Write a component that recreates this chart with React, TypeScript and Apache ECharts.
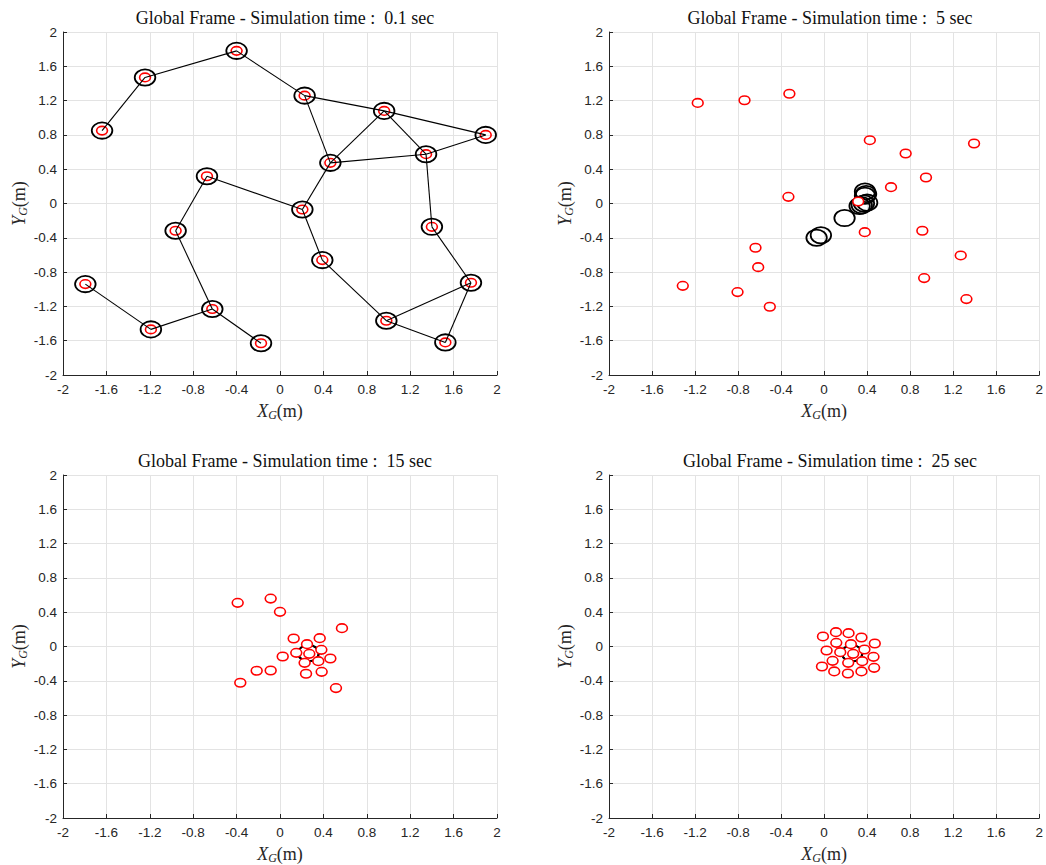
import React, { useEffect, useRef } from "react";
import * as echarts from "echarts";

// Agent positions (m) at each snapshot
const agentsT01: [number, number][] = [
  [-1.64, 0.85], [-1.244, 1.47], [-0.4, 1.78], [0.227, 1.258], [0.96, 1.08],
  [1.896, 0.8], [1.346, 0.575], [0.464, 0.474], [-0.673, 0.318], [0.206, -0.07],
  [-0.962, -0.318], [1.4, -0.272], [0.39, -0.66], [-1.794, -0.94], [1.76, -0.924],
  [-0.624, -1.23], [-1.19, -1.468], [0.98, -1.367], [1.524, -1.62], [-0.175, -1.63],
];
const agentsT5: [number, number][] = [
  [-1.175, 1.173], [-0.74, 1.204], [-0.323, 1.28], [0.425, 0.738], [0.758, 0.583],
  [1.394, 0.7], [0.947, 0.303], [0.622, 0.19], [-0.332, 0.078], [0.317, 0.023],
  [0.378, -0.334], [0.913, -0.318], [-0.638, -0.516], [-0.613, -0.742], [1.27, -0.606],
  [-1.314, -0.96], [-0.805, -1.033], [0.93, -0.87], [-0.505, -1.204], [1.323, -1.115],
];
const agentsT15: [number, number][] = [
  [-0.39, 0.509], [-0.086, 0.559], [0.0, 0.404], [0.571, 0.214], [0.126, 0.093],
  [0.366, 0.097], [0.249, 0.027], [0.381, -0.039], [0.15, -0.074], [0.27, -0.085],
  [0.025, -0.117], [0.464, -0.14], [0.227, -0.19], [0.353, -0.171], [-0.215, -0.283],
  [-0.086, -0.28], [0.24, -0.318], [0.384, -0.295], [-0.366, -0.423], [0.516, -0.485],
];
const agentsT25: [number, number][] = [
  [-0.011, 0.117], [0.11, 0.167], [0.227, 0.155], [0.347, 0.105], [0.471, 0.035],
  [0.113, 0.043], [0.249, 0.027], [0.023, -0.047], [0.15, -0.066], [0.27, -0.085],
  [0.375, -0.035], [0.459, -0.12], [0.079, -0.167], [0.224, -0.19], [0.354, -0.171],
  [-0.02, -0.233], [0.094, -0.291], [0.221, -0.315], [0.347, -0.291], [0.465, -0.249],
];

// Reference (virtual) positions drawn as black rings
const virtualT01 = agentsT01;
const virtualT5: [number, number][] = [
  [0.38, 0.14], [0.39, 0.11], [0.38, 0.09], [0.4, 0.01], [0.37, 0.0],
  [0.35, -0.02], [0.33, -0.03], [0.19, -0.17], [-0.03, -0.37], [-0.07, -0.4],
];
const virtualT15: [number, number][] = [[0.26, -0.08], [0.265, -0.075]];
const virtualT25: [number, number][] = [[0.258, -0.078], [0.262, -0.08]];

// Communication links at t = 0.1 s (agent index pairs)
const linksT01: [number, number][] = [
  [0, 1], [1, 2], [2, 3], [3, 4], [4, 5], [3, 7], [4, 7], [4, 6], [7, 6], [6, 5],
  [7, 9], [6, 11], [9, 8], [8, 10], [10, 15], [9, 12], [12, 17], [11, 14], [14, 17],
  [14, 18], [17, 18], [13, 16], [16, 15], [15, 19],
];

const snapshotTimes = ["0.1", "5", "15", "25"];
const axisMin = -2;
const axisMax = 2;
const axisStep = 0.4;

const agentRadius = 0.05;
const virtualRadius = 0.095;

const serif = "Liberation Serif";
const sans = "Liberation Sans";
const ink = "#262626";

const grids = [
  { left: 63, top: 32, width: 434, height: 343 },
  { left: 609, top: 32, width: 432, height: 343 },
  { left: 63, top: 475, width: 434, height: 344 },
  { left: 609, top: 475, width: 432, height: 344 },
];

const nameRich = {
  i: { fontFamily: serif, fontStyle: "italic" as const, fontSize: 18, color: ink },
  s: {
    fontFamily: serif,
    fontStyle: "italic" as const,
    fontSize: 12,
    color: ink,
    padding: [9, 0, 0, 0],
  },
  n: { fontFamily: serif, fontSize: 18, color: ink },
};

const tickRich = {
  t: { fontFamily: sans, fontSize: 13.5, color: ink },
};

function ringSeries(
  idx: number,
  data: [number, number][],
  radius: number,
  stroke: string,
  fill: string,
  lineWidth: number,
  z: number
) {
  return {
    type: "custom",
    xAxisIndex: idx,
    yAxisIndex: idx,
    z,
    data,
    renderItem: (_p: any, api: any) => {
      const c = api.coord([api.value(0), api.value(1)]);
      const s = api.size([radius, radius]);
      return {
        type: "ellipse",
        shape: { cx: c[0], cy: c[1], rx: s[0], ry: s[1] },
        style: { fill, stroke, lineWidth },
      };
    },
  };
}

function linkSeries(idx: number, pts: [number, number][], links: [number, number][]) {
  const data = links.map(([a, b]) => [pts[a][0], pts[a][1], pts[b][0], pts[b][1]]);
  return {
    type: "custom",
    xAxisIndex: idx,
    yAxisIndex: idx,
    z: 5,
    data,
    encode: { x: [0, 2], y: [1, 3] },
    renderItem: (_p: any, api: any) => {
      const p1 = api.coord([api.value(0), api.value(1)]);
      const p2 = api.coord([api.value(2), api.value(3)]);
      return {
        type: "line",
        shape: { x1: p1[0], y1: p1[1], x2: p2[0], y2: p2[1] },
        style: { stroke: "#000", lineWidth: 1.1 },
      };
    },
  };
}

const fmt = (v: number) => `{t|${String(Number(v.toFixed(1)))}}`;

export default function App() {
  const ref = useRef<HTMLDivElement>(null);

  useEffect(() => {
    if (!ref.current) return;
    const chart = echarts.init(ref.current, null, { renderer: "svg" });

    const axisCommon = {
      type: "value",
      min: axisMin,
      max: axisMax,
      interval: axisStep,
      axisLine: { show: true, onZero: false, lineStyle: { color: ink, width: 1 } },
      axisTick: { show: true, inside: true, length: 4, lineStyle: { color: ink } },
      splitLine: { show: true, lineStyle: { color: "#e3e3e3", width: 1 } },
    };

    const xAxes = grids.map((_, i) => ({
      ...axisCommon,
      gridIndex: i,
      axisLabel: {
        show: true,
        color: ink,
        fontFamily: sans,
        fontSize: 13.5,
        margin: 7,
        formatter: fmt,
        rich: tickRich,
      },
      name: "{i|X}{s|G}{n|(m)}",
      nameLocation: "middle",
      nameGap: 25,
      nameTextStyle: { rich: nameRich },
    }));
    const yAxes = grids.map((_, i) => ({
      ...axisCommon,
      gridIndex: i,
      axisLabel: {
        show: true,
        color: ink,
        fontFamily: sans,
        fontSize: 13.5,
        margin: 6,
        formatter: fmt,
        rich: tickRich,
      },
      name: "{i|Y}{s|G}{n|(m)}",
      nameLocation: "middle",
      nameGap: 34,
      nameTextStyle: { rich: nameRich },
    }));

    const agents = [agentsT01, agentsT5, agentsT15, agentsT25];
    const virtuals = [virtualT01, virtualT5, virtualT15, virtualT25];

    const series: any[] = [];
    for (let i = 0; i < 4; i++) {
      series.push(ringSeries(i, virtuals[i], virtualRadius, "#000", "none", 1.8, 2));
      series.push(ringSeries(i, agents[i], agentRadius, "#ff0000", i === 0 ? "none" : "#fff", 1.6, 3));
    }
    series.push(linkSeries(0, agentsT01, linksT01));

    const titles = grids.map((g, i) => ({
      text: `Global Frame - Simulation time :  ${snapshotTimes[i]} sec`,
      left: g.left + g.width / 2,
      top: g.top - 28,
      textAlign: "center",
      textStyle: { fontFamily: serif, fontWeight: "normal", fontSize: 18, color: "#111" },
    }));

    chart.setOption({
      animation: false,
      backgroundColor: "#fff",
      title: titles,
      grid: grids.map((g) => ({ ...g, containLabel: false })),
      xAxis: xAxes,
      yAxis: yAxes,
      series,
    });

    return () => chart.dispose();
  }, []);

  return (
    <div
      ref={ref}
      style={{ position: "absolute", left: 0, top: 0, width: 1046, height: 865 }}
    />
  );
}
